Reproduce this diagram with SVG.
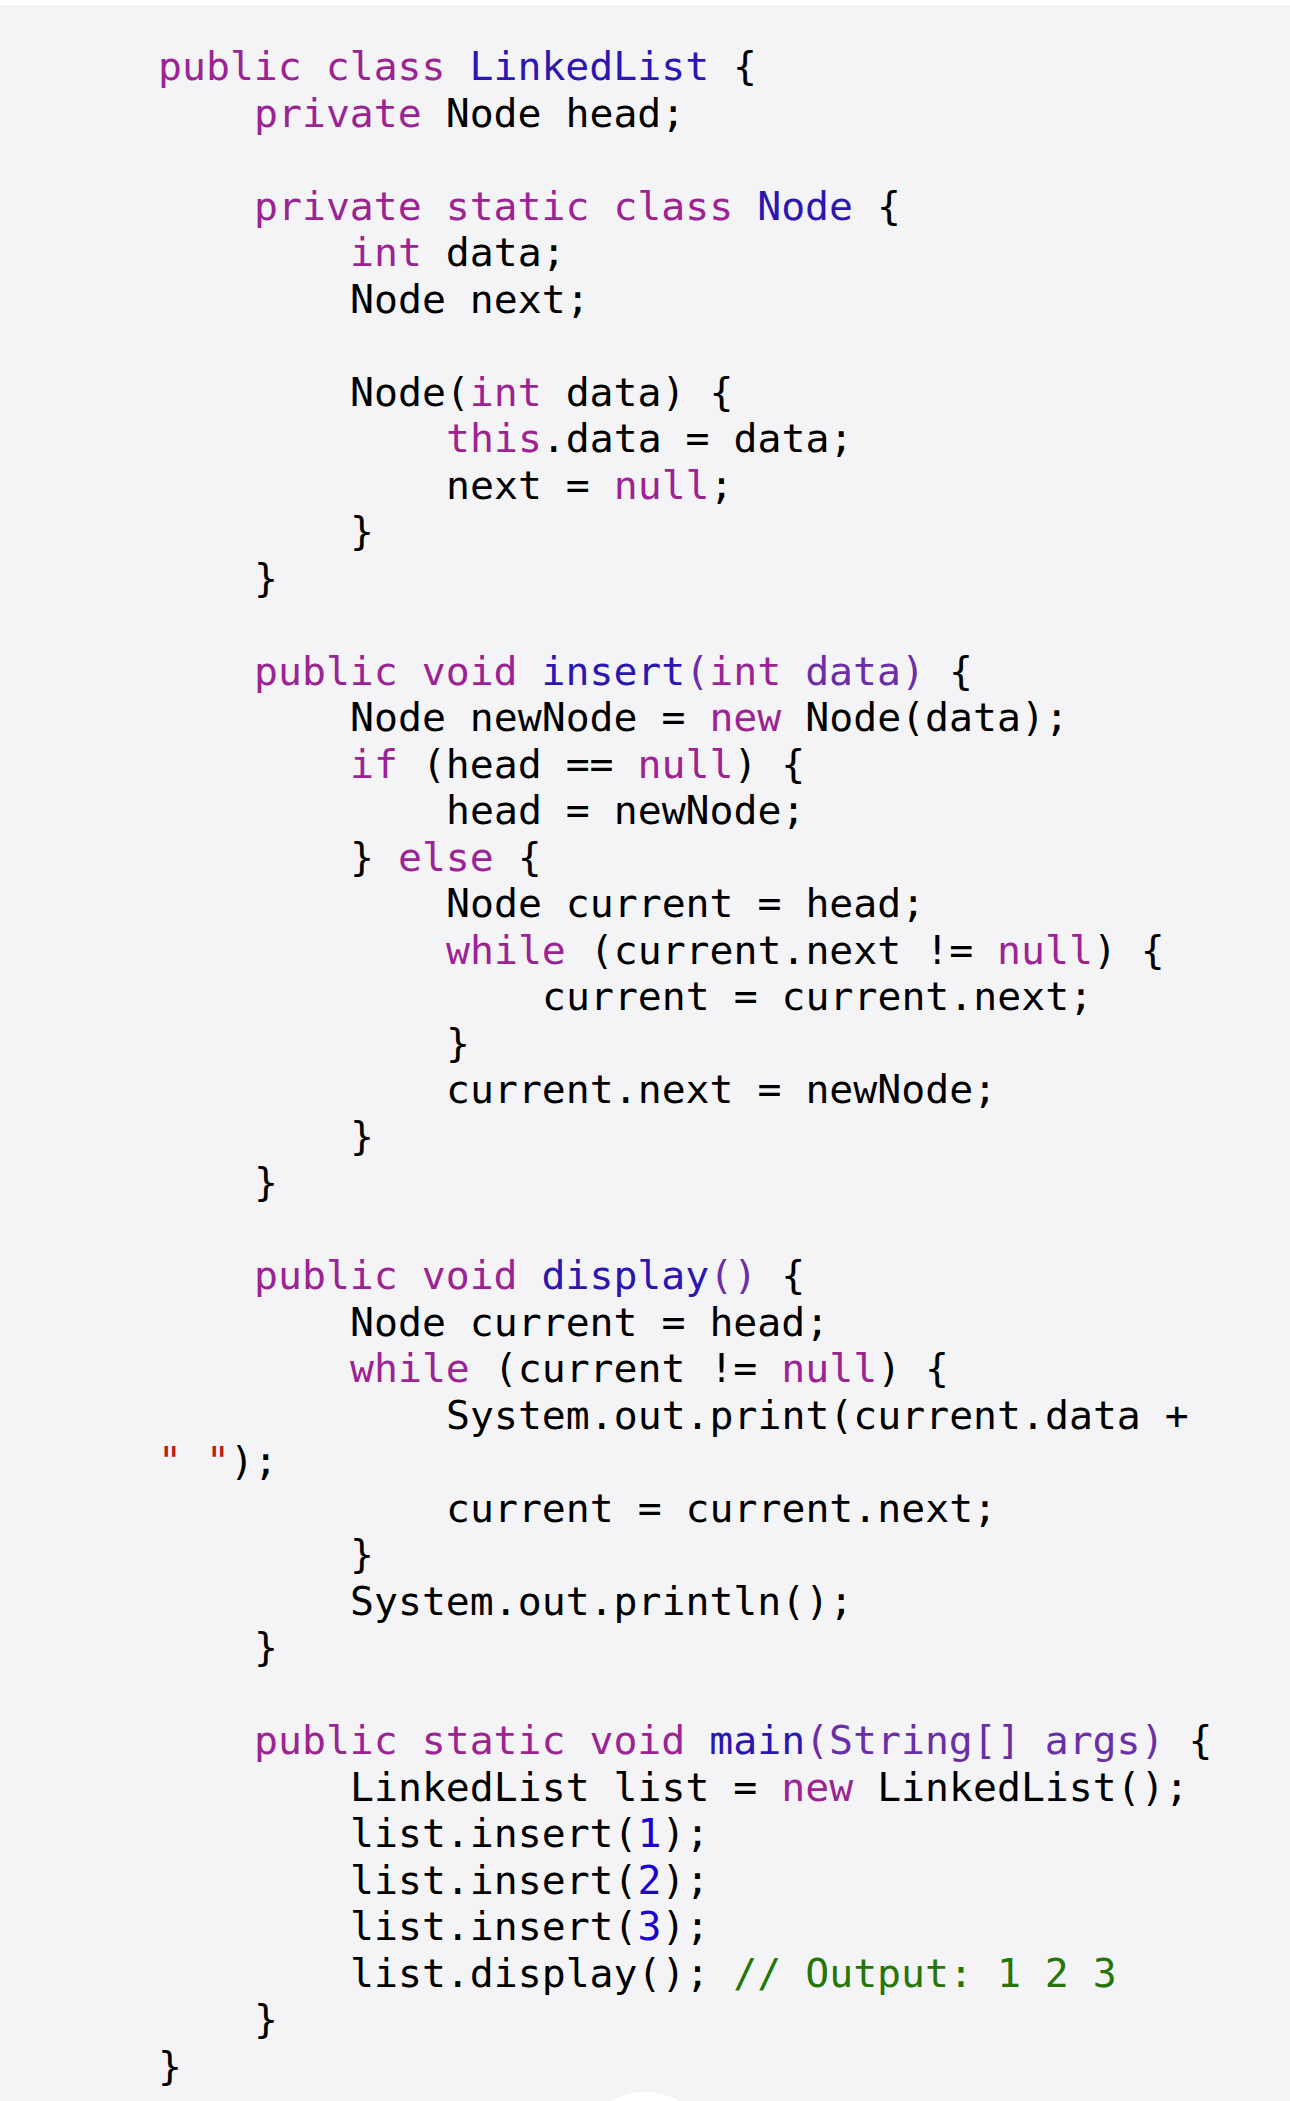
<svg xmlns="http://www.w3.org/2000/svg" width="1290" height="2101" viewBox="0 0 1290 2101">
<style>
text{font-family:"DejaVu Sans Mono","Liberation Mono",monospace;font-size:39.8px;fill:#000;white-space:pre}
.k{fill:#9B2393}.t{fill:#2B16B0}.p{fill:#6A2FA6}.s{fill:#C41A16}.n{fill:#1C00CF}.c{fill:#267507}
</style>
<rect width="1290" height="2101" fill="#F4F4F7"/>
<rect width="1290" height="5" fill="#FFFFFF"/>
<circle cx="645" cy="2160" r="68" fill="#FFFFFF"/>
<g id="code">
<text x="158" y="80" xml:space="preserve"><tspan class="k">public class</tspan> <tspan class="t">LinkedList</tspan> {</text>
<text x="254" y="126.5" xml:space="preserve"><tspan class="k">private</tspan> Node head;</text>
<text x="254" y="219.5" xml:space="preserve"><tspan class="k">private static class</tspan> <tspan class="t">Node</tspan> {</text>
<text x="350" y="266" xml:space="preserve"><tspan class="k">int</tspan> data;</text>
<text x="350" y="312.5" xml:space="preserve">Node next;</text>
<text x="350" y="405.5" xml:space="preserve">Node(<tspan class="k">int</tspan> data) {</text>
<text x="446" y="452" xml:space="preserve"><tspan class="k">this</tspan>.data = data;</text>
<text x="446" y="498.5" xml:space="preserve">next = <tspan class="k">null</tspan>;</text>
<text x="350" y="545" xml:space="preserve">}</text>
<text x="254" y="591.5" xml:space="preserve">}</text>
<text x="254" y="684.5" xml:space="preserve"><tspan class="k">public void</tspan> <tspan class="t">insert</tspan><tspan class="p">(</tspan><tspan class="k">int</tspan> <tspan class="p">data)</tspan> {</text>
<text x="350" y="731" xml:space="preserve">Node newNode = <tspan class="k">new</tspan> Node(data);</text>
<text x="350" y="777.5" xml:space="preserve"><tspan class="k">if</tspan> (head == <tspan class="k">null</tspan>) {</text>
<text x="446" y="824" xml:space="preserve">head = newNode;</text>
<text x="350" y="870.5" xml:space="preserve">} <tspan class="k">else</tspan> {</text>
<text x="446" y="917" xml:space="preserve">Node current = head;</text>
<text x="446" y="963.5" xml:space="preserve"><tspan class="k">while</tspan> (current.next != <tspan class="k">null</tspan>) {</text>
<text x="542" y="1010" xml:space="preserve">current = current.next;</text>
<text x="446" y="1056.5" xml:space="preserve">}</text>
<text x="446" y="1103" xml:space="preserve">current.next = newNode;</text>
<text x="350" y="1149.5" xml:space="preserve">}</text>
<text x="254" y="1196" xml:space="preserve">}</text>
<text x="254" y="1289" xml:space="preserve"><tspan class="k">public void</tspan> <tspan class="t">display</tspan><tspan class="p">()</tspan> {</text>
<text x="350" y="1335.5" xml:space="preserve">Node current = head;</text>
<text x="350" y="1382" xml:space="preserve"><tspan class="k">while</tspan> (current != <tspan class="k">null</tspan>) {</text>
<text x="446" y="1428.5" xml:space="preserve">System.out.print(current.data +</text>
<text x="158" y="1475" xml:space="preserve"><tspan class="s">" "</tspan>);</text>
<text x="446" y="1521.5" xml:space="preserve">current = current.next;</text>
<text x="350" y="1568" xml:space="preserve">}</text>
<text x="350" y="1614.5" xml:space="preserve">System.out.println();</text>
<text x="254" y="1661" xml:space="preserve">}</text>
<text x="254" y="1754" xml:space="preserve"><tspan class="k">public static void</tspan> <tspan class="t">main</tspan><tspan class="p">(String[] args)</tspan> {</text>
<text x="350" y="1800.5" xml:space="preserve">LinkedList list = <tspan class="k">new</tspan> LinkedList();</text>
<text x="350" y="1847" xml:space="preserve">list.insert(<tspan class="n">1</tspan>);</text>
<text x="350" y="1893.5" xml:space="preserve">list.insert(<tspan class="n">2</tspan>);</text>
<text x="350" y="1940" xml:space="preserve">list.insert(<tspan class="n">3</tspan>);</text>
<text x="350" y="1986.5" xml:space="preserve">list.display(); <tspan class="c">// Output: 1 2 3</tspan></text>
<text x="254" y="2033" xml:space="preserve">}</text>
<text x="158" y="2079.5" xml:space="preserve">}</text>
</g>
</svg>
